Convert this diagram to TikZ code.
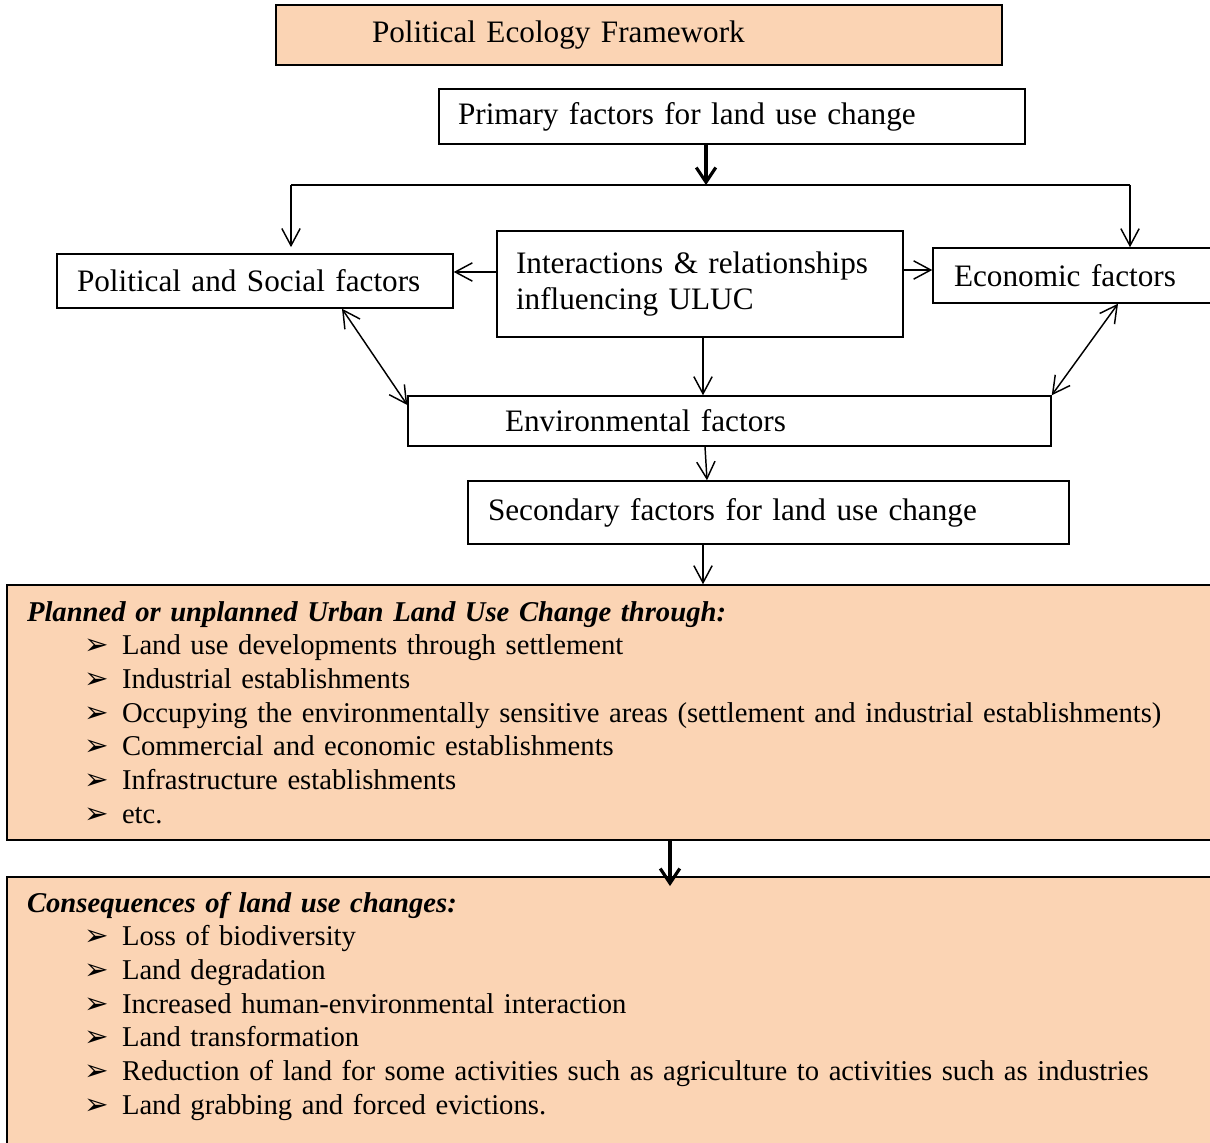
\documentclass[tikz,border=0pt]{standalone}
\usepackage{fontspec}
\setmainfont{Liberation Serif}
\newfontfamily\symfont{DejaVu Sans}
\usetikzlibrary{arrows.meta}
\definecolor{peach}{RGB}{251,212,180}
\newdimen\px \px=0.41pt
\newcommand{\itm}[1]{\\\hspace*{58\px}\makebox[37\px][l]{\symfont\fontsize{12}{12}\selectfont ➢}#1}

\begin{document}
\begin{tikzpicture}[x=\px, y=-\px,
      box/.style={draw, line width=0.6pt, align=left, inner xsep=0pt, inner ysep=0pt,
        font=\fontsize{12.8}{15}\selectfont},
      peachbox/.style={box, fill=peach},
      listbox/.style={peachbox, minimum width=1223\px, text width=1183\px,
        font=\fontsize{11.75}{13.8}\selectfont},
      arr/.style={line width=0.6pt, -{Straight Barb[length=7pt,width=7.5pt]}},
      twoarr/.style={line width=0.6pt,
        {Straight Barb[length=7pt,width=7.5pt]}-{Straight Barb[length=7pt,width=7.5pt]}},
      bigarr/.style={line width=1.3pt, -{Straight Barb[length=6pt,width=8pt]}}
  ]
  \useasboundingbox (0,0) rectangle (1210,1143);
  \clip (0,0) rectangle (1210,1143);

  \node[peachbox, minimum width=726\px, minimum height=60\px, text width=534\px]
    (title) at (639,35) {Political Ecology Framework};
  \node[box, minimum width=586\px, minimum height=55\px, text width=548\px]
    (primary) at (732,116.5) {Primary factors for land use change};
  \node[box, minimum width=396\px, minimum height=54\px, text width=356\px]
    (polsoc) at (255,281) {Political and Social factors};
  \node[box, minimum width=406\px, minimum height=106\px, text width=368\px]
    (inter) at (700,284) {Interactions \& relationships\\influencing ULUC};
  \node[box, minimum width=300\px, minimum height=55\px, text width=258\px]
    (econ) at (1083,275.5) {Economic factors};
  \node[box, minimum width=643\px, minimum height=50\px, text width=449\px]
    (env) at (729.5,421) {Environmental factors};
  \node[box, minimum width=601\px, minimum height=63\px, text width=561\px]
    (second) at (768.5,512.5) {Secondary factors for land use change};

  \node[listbox, minimum height=255\px] (planned) at (618.5,712.5)
    {\textbf{\textit{Planned or unplanned Urban Land Use Change through:}}
     \itm{Land use developments through settlement}
     \itm{Industrial establishments}
     \itm{Occupying the environmentally sensitive areas (settlement and industrial establishments)}
     \itm{Commercial and economic establishments}
     \itm{Infrastructure establishments}
     \itm{etc.}};
  \node[listbox, minimum height=274\px] (conseq) at (618.5,1014)
    {\textbf{\textit{Consequences of land use changes:}}
     \itm{Loss of biodiversity}
     \itm{Land degradation}
     \itm{Increased human-environmental interaction}
     \itm{Land transformation}
     \itm{Reduction of land for some activities such as agriculture to activities such as industries}
     \itm{Land grabbing and forced evictions.}\\[-12\px]\mbox{}};

  \coordinate (split) at (706,185);
  \coordinate (lsplit) at (291,185);
  \coordinate (rsplit) at (1130,185);

  \draw[bigarr] (primary.south -| split) -- (split);
  \draw[line width=0.6pt] (lsplit) -- (rsplit);
  \draw[arr, shorten >=2.5pt] (lsplit) -- (lsplit |- polsoc.north);
  \draw[arr] (rsplit) -- (rsplit |- econ.north);
  \draw[arr] (inter.west |- 0,272) -- (polsoc.east |- 0,272);
  \draw[arr] (inter.east |- 0,270) -- (econ.west |- 0,270);
  \draw[arr] (inter.south -| 703,0) -- (env.north -| 703,0);
  \draw[twoarr] (polsoc.south -| 342,0) -- (env.west |- 0,405);
  \draw[twoarr] (econ.south -| 1118,0) -- (env.north east);
  \draw[arr] (env.south -| 705,0) -- (second.north -| 707,0);
  \draw[arr] (second.south -| 703,0) -- (planned.north -| 703,0);
  \draw[bigarr, shorten >=-4pt] (planned.south -| 670,0) -- (conseq.north -| 670,0);

\end{tikzpicture}
\end{document}
